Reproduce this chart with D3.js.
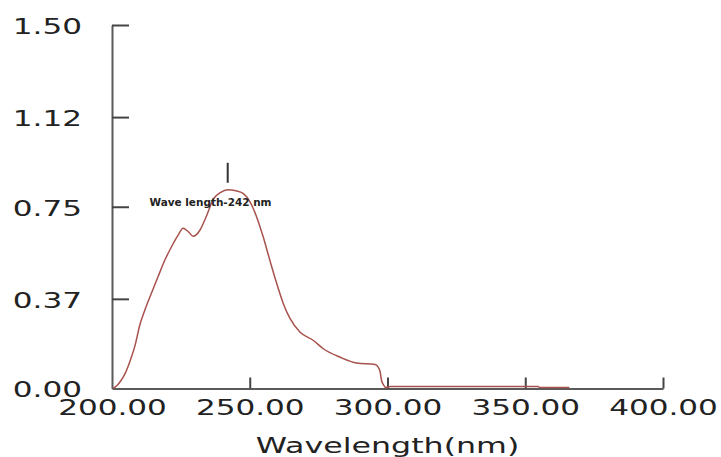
<!DOCTYPE html>
<html>
<head>
<meta charset="utf-8">
<script src="https://cdn.jsdelivr.net/npm/d3@7/dist/d3.min.js"></script>
<style>
  html, body { margin: 0; padding: 0; background: #fff; }
  svg { display: block; }
</style>
</head>
<body>
<svg id="chart" width="721" height="457"></svg>
<script>
// UV absorption spectrum
const wavelengths = [
  200.4, 201.8, 203.4, 204.6, 205.8, 207.0, 208.3, 210.1, 211.9, 214.3,
  216.7, 219.2, 221.6, 224.0, 225.8, 227.6, 229.5, 231.9, 234.3, 236.8,
  239.3, 242.0, 245.0, 247.7, 250.1, 252.5, 254.9, 257.3, 259.8, 262.2,
  264.6, 268.2, 273.1, 276.7, 282.8, 288.8, 295.5, 296.5, 297.3, 297.8,
  298.6, 299.4, 301.0, 354.6, 355.4, 366.0
];
const absorbance = [
  0.000, 0.012, 0.035, 0.058, 0.090, 0.128, 0.175, 0.262, 0.323, 0.393,
  0.461, 0.530, 0.585, 0.633, 0.661, 0.648, 0.628, 0.653, 0.712, 0.782,
  0.808, 0.820, 0.816, 0.804, 0.770, 0.708, 0.625, 0.529, 0.433, 0.350,
  0.289, 0.233, 0.198, 0.164, 0.129, 0.105, 0.099, 0.090, 0.070, 0.035,
  0.014, 0.004, 0.008, 0.008, 0.004, 0.004
];
const xTicks = [200, 250, 300, 350, 400];
const xTickLabels = ["200.00", "250.00", "300.00", "350.00", "400.00"];
const yTicks = [0, 0.37, 0.75, 1.12, 1.50];
const yTickLabels = ["0.00", "0.37", "0.75", "1.12", "1.50"];
const peakWavelength = 242;
const peakLabel = "Wave length-242 nm";
const xTitle = "Wavelength(nm)";

const svg = d3.select("#chart");
const x = d3.scaleLinear().domain([200, 400]).range([112, 663]);
const y = d3.scaleLinear().domain([0, 1.5]).range([388.5, 25]);

const axisColor = "#5a5a5a";
const textColor = "#222";
const stretch = 1.48;   // wide lettering of the tick labels

// axes: ticks point into the plot
const gx = svg.append("g")
  .attr("transform", `translate(0,${y(0)})`)
  .call(d3.axisBottom(x).tickValues(xTicks)
    .tickFormat((d, i) => xTickLabels[i])
    .tickSizeInner(-11).tickSizeOuter(0).tickPadding(12));

const gy = svg.append("g")
  .attr("transform", `translate(${x(200)},0)`)
  .call(d3.axisLeft(y).tickValues(yTicks)
    .tickFormat((d, i) => yTickLabels[i])
    .tickSizeInner(-17).tickSizeOuter(0).tickPadding(30));

[gx, gy].forEach(g => {
  g.select(".domain").attr("stroke", axisColor).attr("stroke-width", 2);
  g.selectAll(".tick line").attr("stroke", "#444").attr("stroke-width", 2);
  g.selectAll(".tick text")
    .attr("fill", textColor)
    .style("font-family", "'DejaVu Sans', Verdana, sans-serif")
    .style("font-size", "21px")
    .each(function () {
      const t = d3.select(this);
      const ox = +t.attr("x") || 0;
      t.attr("x", ox / stretch).attr("transform", `scale(${stretch},1)`);
    });
});
gx.selectAll(".tick").filter(d => d === 200).select("line").remove();
gy.selectAll(".tick").filter(d => d === 0).select("line").remove();
gy.selectAll(".tick text").attr("dy", "0.4em");

// spectrum curve
const data = wavelengths.map((w, i) => ({ w, a: absorbance[i] }));
const line = d3.line()
  .x(d => x(d.w))
  .y(d => y(d.a))
  .curve(d3.curveMonotoneX);

svg.append("path")
  .datum(data)
  .attr("d", line)
  .attr("fill", "none")
  .attr("stroke", "#a8524d")
  .attr("stroke-width", 1.5)
  .attr("stroke-linejoin", "round");

// peak marker and annotation
const peakAbs = absorbance[wavelengths.indexOf(peakWavelength)];
svg.append("line")
  .attr("x1", x(peakWavelength)).attr("x2", x(peakWavelength))
  .attr("y1", y(peakAbs) - 27).attr("y2", y(peakAbs) - 7)
  .attr("stroke", "#333").attr("stroke-width", 2);

svg.append("text")
  .attr("x", 149.5).attr("y", 205.7)
  .attr("textLength", 122).attr("lengthAdjust", "spacingAndGlyphs")
  .attr("fill", textColor)
  .style("font-family", "'DejaVu Sans', Verdana, sans-serif")
  .style("font-weight", "bold")
  .style("font-size", "10px")
  .text(peakLabel);

// x-axis title
svg.append("text")
  .attr("transform", `translate(${(x(200) + x(400)) / 2},453) scale(1.44,1)`)
  .attr("text-anchor", "middle")
  .attr("fill", textColor)
  .style("font-family", "'DejaVu Sans', Verdana, sans-serif")
  .style("font-size", "22px")
  .text(xTitle);
</script>
</body>
</html>
